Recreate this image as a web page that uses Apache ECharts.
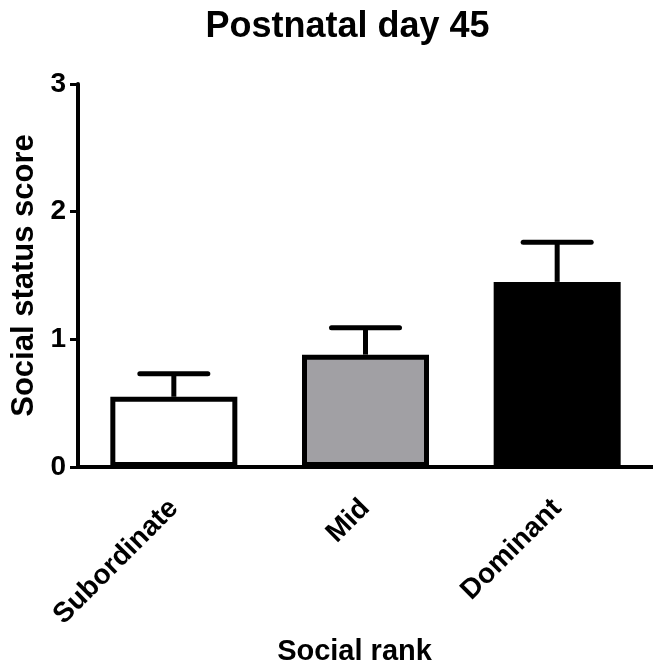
<!DOCTYPE html>
<html>
<head>
<meta charset="utf-8">
<script src="https://cdn.jsdelivr.net/npm/echarts@6/dist/echarts.min.js"></script>
<style>
html,body{margin:0;padding:0;background:#fff;}
#chart{width:653px;height:671px;}
</style>
</head>
<body>
<div id="chart"></div>
<script>
var categories = ['Subordinate', 'Mid', 'Dominant'];
var means = [0.55, 0.88, 1.45];
var sem = [0.18, 0.21, 0.31];
var barColors = ['#ffffff', '#a1a0a4', '#000000'];
var yTicks = [0, 1, 2, 3];

var FONT = "'Liberation Sans', Arial, sans-serif";
var chart = echarts.init(document.getElementById('chart'), null, {renderer: 'canvas'});

var option = {
  backgroundColor: '#ffffff',
  animation: false,
  title: {
    text: 'Postnatal day 45',
    left: 342.5, top: 4, textAlign: 'center',
    textStyle: {fontFamily: FONT, fontWeight: 'bold', fontSize: 36, color: '#000'}
  },
  grid: {left: 78, top: 84, width: 576, height: 384, containLabel: false},
  xAxis: {
    type: 'category',
    data: categories,
    name: 'Social rank',
    nameLocation: 'middle',
    nameGap: 170,
    nameTextStyle: {fontFamily: FONT, fontWeight: 'bold', fontSize: 29, color: '#000', padding: [0, 22, 0, 0]},
    axisLine: {lineStyle: {color: '#000', width: 4}},
    axisTick: {alignWithLabel: true, length: 12, lineStyle: {color: '#000', width: 3}},
    axisLabel: {rotate: 45, margin: 37, fontFamily: FONT, fontWeight: 'bold', fontSize: 28, color: '#000', interval: 0}
  },
  yAxis: {
    type: 'value',
    min: yTicks[0], max: yTicks[yTicks.length - 1], interval: 1,
    name: 'Social status score',
    nameLocation: 'middle',
    nameGap: 37,
    nameTextStyle: {fontFamily: FONT, fontWeight: 'bold', fontSize: 31, color: '#000'},
    axisLine: {show: true, lineStyle: {color: '#000', width: 4}},
    axisTick: {show: true, length: 8, lineStyle: {color: '#000', width: 3}},
    axisLabel: {margin: 12, fontFamily: FONT, fontWeight: 'bold', fontSize: 28, color: '#000'},
    splitLine: {show: false}
  },
  series: [
    {
      type: 'bar',
      barWidth: 127,
      data: means.map(function (v, i) {
        return {value: v, itemStyle: {color: barColors[i], borderColor: '#000', borderWidth: 5}};
      }),
      z: 2
    },
    {
      type: 'custom',
      z: 3,
      data: means.map(function (v, i) { return [i, v, v + sem[i]]; }),
      renderItem: function (params, api) {
        var base = api.coord([api.value(0), api.value(1)]);
        var top = api.coord([api.value(0), api.value(2)]);
        var half = 34;
        return {
          type: 'group',
          children: [
            {type: 'line', shape: {x1: base[0], y1: base[1], x2: top[0], y2: top[1]},
             style: {stroke: '#000', lineWidth: 5}},
            {type: 'line', shape: {x1: top[0] - half, y1: top[1], x2: top[0] + half, y2: top[1]},
             style: {stroke: '#000', lineWidth: 5, lineCap: 'round'}}
          ]
        };
      }
    }
  ]
};
chart.setOption(option);
</script>
</body>
</html>
